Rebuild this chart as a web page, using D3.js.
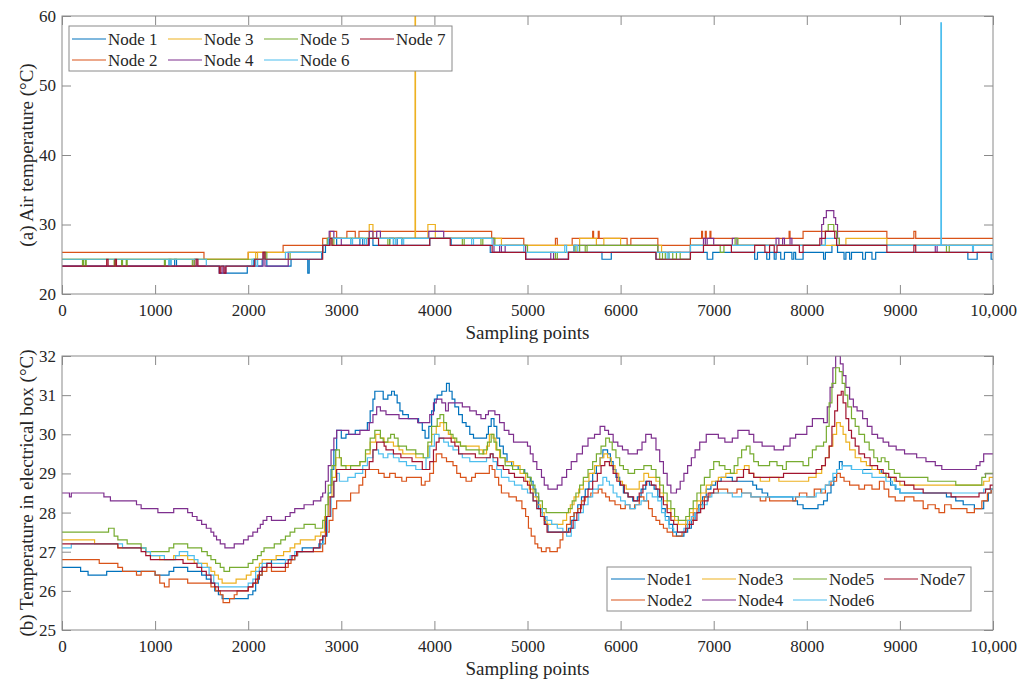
<!DOCTYPE html>
<html>
<head>
<meta charset="utf-8">
<script src="https://cdn.jsdelivr.net/npm/d3@7/dist/d3.min.js"></script>
<style>
  html, body { margin: 0; padding: 0; background: #fff; }
  svg { display: block; }
</style>
</head>
<body>
<svg id="chart" width="1036" height="682"></svg>
<script>
// ---- axes ticks ----
const xTicks = [0, 1000, 2000, 3000, 4000, 5000, 6000, 7000, 8000, 9000, 10000];
const xTickLabels = ["0", "1000", "2000", "3000", "4000", "5000", "6000", "7000", "8000", "9000", "10,000"];
const airTicks = [20, 30, 40, 50, 60];
const boxTicks = [25, 26, 27, 28, 29, 30, 31, 32];

const nodeColors = ["#0072BD", "#D95319", "#EDB120", "#7E2F8E", "#77AC30", "#4DBEEE", "#A2142F"];
const airNames = ["Node 1", "Node 2", "Node 3", "Node 4", "Node 5", "Node 6", "Node 7"];
const boxNames = ["Node1", "Node2", "Node3", "Node4", "Node5", "Node6", "Node7"];

// ---- (a) air temperature, step changes [sample, °C] ----
const airNode1 = [[0,24],[1150,25],[1170,24],[1210,25],[1230,24],[1690,23],[1990,24],[2060,25],[2100,24],[2150,25],[2200,24],[2460,25],[2640,23],[2655,25],[2790,26],[2830,27],[2870,28],[2950,27],[3100,28],[3120,27],[3200,28],[3230,27],[3300,28],[3340,27],[3520,28],[3560,27],[3600,28],[3650,27],[3950,28],[4180,27],[4600,26],[4980,25],[5440,26],[5800,25],[5900,26],[6380,25],[6750,26],[6930,25],[6990,26],[7440,25],[7470,26],[7570,25],[7600,26],[7650,25],[7670,26],[7720,25],[7760,26],[7840,25],[7860,26],[7880,25],[7960,26],[8180,25],[8200,26],[8270,27],[8330,26],[8400,25],[8420,26],[8460,25],[8480,26],[8600,25],[8630,26],[8700,25],[8740,26],[9730,25],[9830,26],[9980,25]];
const airNode2 = [[0,26],[1525,25],[2000,26],[2375,27],[2800,28],[2880,29],[2950,28],[3060,29],[3150,28],[3190,29],[4615,28],[4960,27],[5300,28],[5320,27],[5480,28],[5700,29],[5710,28],[5760,29],[5770,28],[6070,27],[6110,28],[6400,27],[6750,28],[6870,29],[6880,28],[6910,29],[6920,28],[6960,29],[6970,28],[7810,29],[7820,28],[7960,29],[8860,28],[9150,29],[9170,28]];
const airNode3 = [[0,25],[2000,26],[2080,25],[2100,26],[2800,27],[2850,28],[3300,30],[3340,28],[3792,66],[3797,28],[3930,30],[4010,28],[4720,27],[5560,28],[5740,27],[5820,28],[6000,27],[6440,26],[6750,27],[8420,28],[8860,27]];
const airNode4 = [[0,24],[1420,25],[1450,24],[1690,23],[1720,24],[1740,23],[1760,24],[2160,26],[2180,24],[2430,26],[2800,27],[2870,29],[2920,28],[3000,27],[3300,29],[3340,28],[3380,29],[3420,28],[3940,29],[4100,28],[4640,26],[4700,27],[4720,26],[4760,27],[4980,25],[5250,26],[5280,25],[5440,26],[5500,27],[6400,26],[6750,27],[6890,28],[6910,27],[6930,28],[7000,27],[7200,28],[7250,27],[7670,28],[7700,27],[7740,28],[7760,27],[7820,28],[7840,27],[8160,30],[8180,31],[8210,32],[8290,31],[8310,30],[8330,28],[8350,27],[9380,26],[9400,27]];
const airNode5 = [[0,25],[220,24],[230,25],[250,24],[260,25],[560,24],[570,25],[640,24],[650,25],[690,24],[700,25],[1100,24],[1110,25],[1400,24],[1420,25],[2180,26],[2200,25],[2450,26],[2800,27],[2850,28],[2900,27],[2920,28],[3500,27],[3520,28],[4300,27],[4320,28],[4500,27],[4520,28],[4650,27],[5000,26],[5300,25],[5320,26],[5500,27],[5520,26],[5560,27],[5620,26],[5640,27],[6400,26],[6420,25],[6450,26],[6480,25],[6520,26],[6560,25],[6600,26],[6640,25],[6750,27],[7070,26],[7110,27],[7230,28],[7260,27],[8200,29],[8230,30],[8290,29],[8320,28],[8350,27],[9500,26],[9530,27]];
const airNode6 = [[0,25],[1150,24],[1170,25],[1550,24],[2040,25],[2080,24],[2100,25],[2400,26],[2800,27],[2860,28],[3100,27],[3120,28],[3250,27],[3270,28],[3560,27],[3580,28],[3650,27],[3670,28],[4400,27],[4420,28],[4620,27],[4960,26],[5400,27],[5420,26],[5500,27],[5540,26],[6500,25],[6520,26],[6750,27],[8200,28],[8320,27],[9440,59],[9446,27],[9780,26],[9790,27]];
const airNode7 = [[0,24],[480,25],[495,24],[570,25],[585,24],[1440,25],[1460,24],[1690,23],[1705,24],[1740,23],[1760,24],[2070,25],[2160,26],[2180,25],[2800,27],[2880,28],[2900,27],[3290,28],[3400,27],[3950,28],[4170,27],[4620,26],[4980,25],[5440,26],[6380,25],[6750,26],[6890,27],[7190,26],[7440,27],[7550,26],[7600,27],[7650,26],[7680,27],[7920,26],[7960,27],[8140,28],[8200,29],[8300,28],[8320,27],[8860,26],[9150,27],[9170,26]];

// ---- (b) electrical box temperature, step changes [sample, °C] ----
const boxNode1 = [[0,26.6],[200,26.5],[280,26.4],[480,26.5],[1000,26.4],[1150,26.5],[1200,26.6],[1350,26.5],[1500,26.4],[1550,26.3],[1600,26.2],[1640,26.0],[1680,25.9],[1720,25.8],[2000,25.9],[2050,26.0],[2080,26.2],[2110,26.4],[2150,26.6],[2200,26.7],[2250,26.8],[2500,26.9],[2530,27.0],[2580,27.1],[2760,27.2],[2800,27.4],[2830,27.9],[2860,28.5],[2890,29.1],[2920,29.6],[2950,30.1],[3000,29.9],[3050,30.0],[3150,30.1],[3280,30.3],[3310,30.6],[3340,30.9],[3360,31.1],[3450,30.9],[3500,31.0],[3540,31.1],[3570,31.0],[3600,30.8],[3630,30.6],[3660,30.5],[3720,30.4],[3830,30.3],[3870,30.1],[3900,29.9],[3940,30.2],[3970,30.6],[4000,30.9],[4030,31.0],[4080,31.1],[4130,31.3],[4160,31.1],[4190,30.9],[4220,30.7],[4260,30.5],[4300,30.3],[4340,30.2],[4380,30.0],[4420,29.9],[4560,30.0],[4580,30.2],[4610,30.4],[4640,30.2],[4670,29.9],[4700,29.7],[4740,29.5],[4780,29.3],[4830,29.2],[4900,29.1],[4970,29.0],[5000,28.9],[5030,28.8],[5060,28.6],[5090,28.4],[5120,28.1],[5160,27.9],[5190,27.7],[5220,27.5],[5440,27.6],[5470,27.8],[5500,28.0],[5540,28.2],[5580,28.4],[5620,28.6],[5660,28.8],[5700,29.0],[5740,29.2],[5780,29.4],[5810,29.6],[5860,29.5],[5890,29.3],[5920,29.1],[5950,28.9],[5990,28.7],[6030,28.5],[6080,28.4],[6130,28.3],[6180,28.4],[6220,28.6],[6270,28.8],[6310,28.7],[6360,28.6],[6400,28.4],[6440,28.1],[6480,27.9],[6520,27.7],[6560,27.5],[6600,27.4],[6680,27.5],[6720,27.6],[6760,27.8],[6800,28.0],[6840,28.2],[6880,28.4],[6920,28.6],[6970,28.7],[7020,28.8],[7080,28.9],[7200,28.8],[7420,28.7],[7460,28.6],[7520,28.5],[7580,28.4],[7850,28.3],[7900,28.2],[7960,28.1],[8120,28.2],[8180,28.3],[8220,28.5],[8260,28.7],[8290,28.9],[8320,29.1],[8350,29.3],[8380,29.2],[8480,29.1],[8800,29.0],[8850,28.9],[8900,28.7],[8950,28.6],[9000,28.5],[9500,28.4],[9600,28.3],[9680,28.2],[9800,28.1],[9900,28.3],[9950,28.5],[9980,28.6]];
const boxNode2 = [[0,26.8],[400,26.7],[600,26.6],[650,26.5],[800,26.4],[850,26.5],[1000,26.4],[1050,26.2],[1100,26.1],[1150,26.3],[1350,26.2],[1600,26.1],[1650,26.0],[1700,25.9],[1730,25.7],[1800,25.8],[1850,25.9],[1880,26.0],[2000,26.1],[2050,26.2],[2100,26.4],[2150,26.5],[2200,26.6],[2250,26.5],[2400,26.6],[2430,26.7],[2460,26.8],[2500,26.9],[2530,27.0],[2800,27.2],[2830,27.5],[2870,27.8],[2910,28.1],[2950,28.3],[3100,28.5],[3190,28.7],[3230,28.9],[3260,29.1],[3400,29.0],[3460,28.9],[3520,29.0],[3580,28.9],[3650,28.8],[3700,28.9],[3860,28.7],[3900,28.8],[3950,29.0],[3990,29.3],[4020,29.5],[4080,29.4],[4130,29.3],[4200,29.2],[4240,29.0],[4280,28.9],[4340,28.8],[4400,28.9],[4440,29.0],[4590,29.2],[4620,29.1],[4650,28.9],[4690,28.7],[4720,28.5],[4800,28.4],[4880,28.3],[4940,28.1],[4980,27.9],[5010,27.6],[5040,27.4],[5080,27.2],[5110,27.1],[5150,27.0],[5200,27.1],[5240,27.0],[5320,27.1],[5350,27.3],[5380,27.5],[5420,27.7],[5460,27.9],[5500,28.0],[5540,28.1],[5580,28.3],[5620,28.4],[5680,28.5],[5760,28.6],[5800,28.5],[5840,28.4],[5880,28.3],[5940,28.2],[6000,28.1],[6050,28.2],[6100,28.1],[6150,28.2],[6200,28.4],[6250,28.3],[6300,28.1],[6340,27.9],[6380,27.8],[6420,27.7],[6460,27.6],[6500,27.5],[6560,27.4],[6660,27.5],[6700,27.7],[6740,27.8],[6780,28.0],[6820,28.1],[6860,28.3],[6900,28.4],[6960,28.5],[7050,28.6],[7150,28.5],[7250,28.6],[7300,28.5],[7400,28.4],[7500,28.3],[7560,28.4],[7600,28.3],[7880,28.4],[7920,28.5],[8000,28.4],[8080,28.6],[8150,28.5],[8200,28.7],[8260,28.8],[8320,29.0],[8360,28.9],[8400,28.8],[8460,28.7],[8560,28.6],[8620,28.7],[8700,28.6],[8780,28.8],[8830,28.6],[8880,28.4],[8950,28.3],[9050,28.4],[9150,28.3],[9250,28.1],[9300,28.2],[9380,28.1],[9420,28.0],[9480,28.2],[9550,28.1],[9720,28.0],[9800,28.1],[9880,28.3],[9940,28.5],[9980,28.6]];
const boxNode3 = [[0,27.3],[350,27.2],[600,27.1],[900,27.0],[950,26.9],[1050,26.8],[1200,26.9],[1350,26.8],[1420,26.7],[1560,26.6],[1600,26.5],[1640,26.4],[1680,26.3],[1720,26.2],[1870,26.3],[1980,26.4],[2030,26.5],[2080,26.6],[2120,26.7],[2150,26.8],[2300,26.9],[2380,27.0],[2450,27.1],[2500,27.2],[2560,27.3],[2720,27.4],[2780,27.5],[2820,27.9],[2860,28.4],[2900,28.9],[2940,29.4],[3000,29.2],[3200,29.3],[3260,29.5],[3310,29.8],[3370,30.0],[3420,29.9],[3460,29.8],[3560,29.7],[3620,29.6],[3660,29.5],[3800,29.4],[3930,29.7],[3970,30.0],[4020,30.2],[4060,30.3],[4100,30.1],[4150,30.0],[4180,29.9],[4220,29.8],[4280,29.7],[4480,29.6],[4520,29.5],[4560,29.7],[4590,30.0],[4630,29.9],[4660,29.6],[4700,29.4],[4760,29.3],[4850,29.2],[4920,29.0],[4980,28.8],[5020,28.6],[5060,28.4],[5100,28.2],[5140,28.0],[5180,27.8],[5210,27.7],[5380,27.8],[5420,28.0],[5460,28.2],[5500,28.4],[5550,28.6],[5600,28.8],[5660,29.0],[5720,29.2],[5780,29.4],[5820,29.5],[5860,29.4],[5900,29.2],[5940,29.0],[5980,28.8],[6020,28.7],[6060,28.6],[6200,28.8],[6250,29.0],[6300,28.9],[6380,28.8],[6420,28.5],[6460,28.3],[6500,28.1],[6540,27.9],[6580,27.8],[6620,27.7],[6700,27.8],[6740,28.0],[6780,28.1],[6820,28.3],[6860,28.5],[6920,28.7],[6980,28.8],[7050,28.9],[7130,29.0],[7250,29.1],[7330,29.2],[7380,29.0],[7430,28.9],[7500,28.8],[7600,28.9],[7700,28.8],[8020,28.9],[8100,29.0],[8160,29.2],[8200,29.4],[8240,29.7],[8280,30.0],[8320,30.3],[8360,30.2],[8390,30.0],[8420,29.8],[8460,29.6],[8520,29.4],[8580,29.3],[8640,29.2],[8700,29.1],[8780,29.0],[8850,28.9],[8940,28.8],[9000,28.7],[9900,28.8],[9960,28.9]];
const boxNode4 = [[0,28.5],[80,28.4],[100,28.5],[450,28.4],[520,28.3],[800,28.2],[850,28.1],[1030,28.0],[1200,28.1],[1350,28.0],[1400,27.9],[1450,27.8],[1500,27.7],[1550,27.6],[1600,27.5],[1630,27.4],[1660,27.3],[1700,27.2],[1750,27.1],[1850,27.2],[1950,27.3],[2000,27.4],[2050,27.5],[2100,27.6],[2130,27.7],[2160,27.8],[2200,27.9],[2250,27.8],[2400,27.9],[2450,28.0],[2500,28.1],[2600,28.2],[2700,28.3],[2780,28.4],[2800,28.5],[2830,28.8],[2860,29.2],[2890,29.6],[2920,29.9],[2950,30.1],[3080,30.0],[3200,30.1],[3300,30.3],[3340,30.5],[3380,30.7],[3420,30.6],[3480,30.5],[3620,30.4],[3820,30.3],[3950,30.5],[3990,30.8],[4020,30.9],[4080,30.8],[4120,30.6],[4150,30.8],[4300,30.7],[4380,30.6],[4450,30.5],[4500,30.4],[4550,30.5],[4580,30.6],[4650,30.5],[4700,30.3],[4750,30.1],[4800,30.0],[4850,29.8],[5000,29.7],[5030,29.5],[5060,29.3],[5100,29.1],[5150,28.9],[5180,28.7],[5220,28.6],[5320,28.7],[5370,28.9],[5420,29.1],[5470,29.3],[5530,29.5],[5590,29.7],[5650,29.9],[5720,30.0],[5780,30.2],[5830,30.1],[5870,30.0],[5920,29.8],[5970,29.7],[6020,29.6],[6080,29.5],[6180,29.6],[6230,29.8],[6270,30.0],[6330,29.9],[6380,29.6],[6420,29.3],[6460,29.0],[6500,28.7],[6540,28.5],[6600,28.6],[6640,28.8],[6680,29.0],[6720,29.2],[6760,29.4],[6800,29.6],[6850,29.8],[6920,30.0],[7050,29.9],[7120,29.8],[7200,29.9],[7260,30.1],[7380,30.0],[7430,29.8],[7520,29.7],[7650,29.6],[7750,29.7],[7820,29.9],[7880,30.0],[8000,30.2],[8060,30.4],[8180,30.3],[8220,30.7],[8250,31.2],[8280,31.7],[8310,32.0],[8360,31.8],[8390,31.5],[8420,31.2],[8460,30.9],[8500,30.7],[8540,30.6],[8600,30.4],[8650,30.2],[8700,30.0],[8760,29.9],[8820,29.8],[8880,29.7],[8960,29.6],[9050,29.5],[9180,29.4],[9280,29.3],[9380,29.2],[9450,29.1],[9820,29.2],[9860,29.3],[9900,29.5]];
const boxNode5 = [[0,27.5],[500,27.6],[560,27.4],[600,27.3],[700,27.2],[850,27.1],[900,27.0],[1150,27.1],[1200,27.2],[1350,27.1],[1500,27.0],[1560,26.9],[1600,26.8],[1650,26.7],[1700,26.6],[1740,26.5],[1800,26.6],[2000,26.7],[2050,26.8],[2100,26.9],[2140,27.0],[2170,27.1],[2280,27.2],[2350,27.3],[2400,27.4],[2450,27.5],[2500,27.6],[2600,27.7],[2720,27.6],[2800,27.8],[2830,28.2],[2860,28.7],[2900,29.2],[2940,29.6],[2980,29.4],[3000,29.2],[3050,29.1],[3100,29.2],[3200,29.3],[3260,29.6],[3310,29.9],[3360,30.1],[3420,29.9],[3450,29.8],[3500,29.9],[3530,30.0],[3570,29.9],[3610,29.7],[3700,29.6],[3800,29.5],[3880,29.4],[3930,29.8],[3970,30.2],[4030,30.4],[4060,30.5],[4100,30.3],[4130,30.1],[4170,30.0],[4200,29.9],[4240,29.8],[4280,29.7],[4340,29.6],[4480,29.5],[4530,29.6],[4570,29.8],[4610,30.0],[4640,29.8],[4670,29.6],[4710,29.4],[4760,29.2],[4840,29.1],[4960,29.0],[5000,28.9],[5040,28.7],[5080,28.5],[5120,28.3],[5160,28.1],[5200,28.0],[5440,28.1],[5480,28.3],[5520,28.5],[5560,28.7],[5600,28.9],[5650,29.1],[5700,29.3],[5740,29.5],[5790,29.7],[5840,29.9],[5880,29.8],[5910,29.6],[5950,29.4],[5990,29.2],[6030,29.1],[6080,29.0],[6150,29.1],[6250,29.2],[6330,29.1],[6380,28.9],[6420,28.7],[6460,28.5],[6500,28.3],[6540,28.1],[6580,27.9],[6620,27.8],[6700,27.9],[6740,28.1],[6780,28.3],[6820,28.5],[6860,28.7],[6900,28.9],[6960,29.1],[7000,29.3],[7060,29.2],[7120,29.1],[7180,29.0],[7220,29.2],[7260,29.4],[7300,29.6],[7350,29.7],[7390,29.5],[7430,29.3],[7480,29.2],[7600,29.3],[7680,29.2],[7740,29.1],[7780,29.3],[7960,29.2],[8020,29.4],[8060,29.6],[8100,29.7],[8180,29.8],[8210,30.2],[8240,30.8],[8270,31.3],[8310,31.7],[8350,31.6],[8380,31.3],[8410,31.0],[8440,30.7],[8480,30.4],[8520,30.2],[8560,30.0],[8620,29.8],[8670,29.6],[8720,29.4],[8760,29.3],[8800,29.4],[8840,29.3],[8880,29.1],[8940,29.0],[9000,28.9],[9300,28.8],[9600,28.7],[9850,28.7],[9880,28.9],[9920,29.0]];
const boxNode6 = [[0,27.1],[100,27.2],[650,27.1],[900,27.0],[950,26.9],[1100,26.8],[1220,26.9],[1260,27.0],[1350,26.9],[1420,26.8],[1460,26.7],[1500,26.6],[1580,26.4],[1630,26.2],[1680,26.1],[2000,26.2],[2050,26.3],[2080,26.5],[2120,26.6],[2150,26.7],[2400,26.8],[2450,26.9],[2500,27.0],[2700,27.1],[2780,27.2],[2810,27.4],[2850,27.9],[2890,28.4],[2920,28.8],[2950,29.0],[2980,28.8],[3070,28.9],[3150,29.0],[3230,29.2],[3280,29.4],[3340,29.6],[3400,29.5],[3450,29.4],[3500,29.5],[3560,29.4],[3620,29.3],[3700,29.2],[3800,29.1],[3910,29.4],[3950,29.7],[4000,30.0],[4050,29.9],[4100,29.8],[4150,29.7],[4200,29.6],[4260,29.5],[4300,29.4],[4380,29.3],[4560,29.4],[4600,29.5],[4630,29.3],[4670,29.1],[4720,28.9],[4800,28.8],[4860,28.7],[4940,28.6],[5000,28.5],[5060,28.3],[5100,28.1],[5160,27.9],[5210,27.8],[5260,27.7],[5320,27.6],[5380,27.5],[5420,27.4],[5470,27.6],[5510,27.8],[5550,28.0],[5600,28.2],[5650,28.4],[5700,28.6],[5760,28.7],[5810,28.9],[5850,28.8],[5880,28.7],[5920,28.5],[5960,28.4],[6000,28.3],[6050,28.2],[6100,28.1],[6160,28.2],[6220,28.3],[6280,28.5],[6340,28.4],[6400,28.3],[6440,28.0],[6480,27.8],[6520,27.6],[6570,27.5],[6680,27.6],[6720,27.8],[6760,27.9],[6800,28.0],[6840,28.1],[6880,28.2],[6930,28.4],[6980,28.5],[7200,28.4],[7300,28.5],[7400,28.4],[8100,28.5],[8160,28.6],[8200,28.7],[8240,28.8],[8280,29.0],[8320,29.1],[8380,29.2],[8480,29.1],[8600,29.0],[8700,28.9],[8850,28.8],[8920,28.7],[8960,28.6],[9000,28.5],[9900,28.6]];
const boxNode7 = [[0,27.2],[600,27.1],[850,27.0],[900,26.9],[950,26.8],[1300,26.7],[1450,26.6],[1500,26.5],[1550,26.4],[1600,26.2],[1640,26.1],[1680,26.0],[2000,26.1],[2050,26.2],[2080,26.3],[2120,26.5],[2150,26.6],[2200,26.7],[2250,26.6],[2400,26.7],[2430,26.8],[2470,26.9],[2520,27.0],[2700,27.1],[2770,27.3],[2800,27.4],[2840,27.9],[2880,28.4],[2920,28.8],[2950,29.1],[3300,29.3],[3340,29.6],[3380,29.8],[3460,29.7],[3480,29.6],[3560,29.5],[3640,29.4],[3760,29.3],[3870,29.1],[3950,29.3],[3990,29.6],[4020,29.8],[4050,29.9],[4180,29.8],[4220,29.7],[4260,29.5],[4440,29.4],[4600,29.5],[4630,29.4],[4680,29.2],[4740,29.1],[4800,29.0],[4860,28.9],[4960,28.8],[5000,28.7],[5030,28.5],[5060,28.3],[5100,28.1],[5140,27.9],[5180,27.7],[5210,27.5],[5460,27.6],[5490,27.8],[5530,28.0],[5570,28.2],[5610,28.4],[5650,28.6],[5700,28.8],[5750,29.0],[5790,29.2],[5830,29.3],[5880,29.2],[5920,29.0],[5960,28.8],[6000,28.7],[6040,28.5],[6080,28.4],[6140,28.3],[6200,28.5],[6240,28.7],[6280,28.8],[6330,28.7],[6380,28.6],[6420,28.4],[6460,28.2],[6500,28.0],[6540,27.8],[6570,27.7],[6610,27.5],[6700,27.6],[6740,27.7],[6780,27.8],[6820,28.0],[6860,28.1],[6900,28.3],[6940,28.5],[7000,28.6],[7040,28.8],[7250,28.9],[7320,29.1],[7380,29.0],[7430,28.9],[7750,29.0],[8100,29.1],[8160,29.2],[8200,29.4],[8240,29.7],[8270,30.2],[8300,30.6],[8330,31.0],[8370,31.1],[8390,30.8],[8420,30.4],[8450,30.1],[8480,29.9],[8520,29.7],[8560,29.5],[8620,29.4],[8680,29.2],[8760,29.1],[8820,29.0],[8880,28.9],[8960,28.8],[9050,28.7],[9150,28.6],[9250,28.5],[9550,28.4],[9850,28.5],[9920,28.6],[9970,28.7]];

const airSeries = [airNode1, airNode2, airNode3, airNode4, airNode5, airNode6, airNode7];
const boxSeries = [boxNode1, boxNode2, boxNode3, boxNode4, boxNode5, boxNode6, boxNode7];

// ---- layout ----
const FONT = "'Liberation Serif', 'Times New Roman', serif";
const TEXT = "#262626";
const svg = d3.select("#chart");
const left = 62, right = 993;
const AXIS = "#8a8a8a";
const TICK_LEN = 9;

const x = d3.scaleLinear().domain([0, 10000]).range([left, right]);

function addText(sel, size) {
  return sel.style("font-family", FONT).attr("font-size", size).attr("fill", TEXT);
}

function drawPanel(cfg) {
  const y = d3.scaleLinear().domain(cfg.yDomain).range([cfg.bottom, cfg.top]);
  const g = svg.append("g");
  const clipId = "clip-" + cfg.id;
  svg.append("defs").append("clipPath").attr("id", clipId)
    .append("rect").attr("x", left).attr("y", cfg.top)
    .attr("width", right - left).attr("height", cfg.bottom - cfg.top);

  const line = d3.line()
    .x(d => x(d[0]))
    .y(d => y(d[1]))
    .curve(d3.curveStepAfter);

  const lines = g.append("g").attr("clip-path", `url(#${clipId})`);
  cfg.series.forEach((s, i) => {
    const pts = s.concat([[10000, s[s.length - 1][1]]]);
    lines.append("path")
      .attr("d", line(pts))
      .attr("fill", "none")
      .attr("stroke", nodeColors[i])
      .attr("stroke-width", 1.2)
      .attr("stroke-linejoin", "miter");
  });

  // box
  g.append("rect").attr("x", left).attr("y", cfg.top)
    .attr("width", right - left).attr("height", cfg.bottom - cfg.top)
    .attr("fill", "none").attr("stroke", AXIS).attr("stroke-width", 1);

  // ticks point inward on all four sides; labels on bottom and left
  const xb = d3.axisBottom(x).tickValues(xTicks).tickSize(-TICK_LEN)
    .tickFormat((d, i) => xTickLabels[i]).tickPadding(10);
  const xAxisG = g.append("g").attr("transform", `translate(0,${cfg.bottom})`).call(xb);
  const xt = d3.axisTop(x).tickValues(xTicks).tickSize(-TICK_LEN).tickFormat("");
  const xTopG = g.append("g").attr("transform", `translate(0,${cfg.top})`).call(xt);

  const yl = d3.axisLeft(y).tickValues(cfg.yTicks).tickSize(-TICK_LEN)
    .tickFormat(d3.format("d")).tickPadding(6);
  const yAxisG = g.append("g").attr("transform", `translate(${left},0)`).call(yl);
  const yr = d3.axisRight(y).tickValues(cfg.yTicks).tickSize(-TICK_LEN).tickFormat("");
  const yRightG = g.append("g").attr("transform", `translate(${right},0)`).call(yr);

  [xAxisG, xTopG, yAxisG, yRightG].forEach(a => {
    a.select(".domain").remove();
    a.selectAll(".tick line").attr("stroke", AXIS);
    addText(a.selectAll(".tick text"), 17);
  });

  // axis titles
  addText(g.append("text"), 19)
    .attr("x", (left + right) / 2).attr("y", cfg.bottom + 45)
    .attr("text-anchor", "middle")
    .text("Sampling points");
  addText(g.append("text"), 19)
    .attr("transform", `translate(33,${(cfg.top + cfg.bottom) / 2}) rotate(-90)`)
    .attr("text-anchor", "middle")
    .text(cfg.yTitle);

  // legend
  const L = cfg.legend;
  const lg = g.append("g");
  lg.append("rect").attr("x", L.x).attr("y", L.y).attr("width", L.w).attr("height", L.h)
    .attr("fill", "#fff").attr("stroke", AXIS).attr("stroke-width", 1);
  cfg.names.forEach((name, i) => {
    const col = Math.floor(i / 2), row = i % 2;
    const lx = L.x + L.pad + col * L.colW;
    const ly = L.y + L.rowY[row];
    lg.append("line").attr("x1", lx).attr("x2", lx + L.lineLen)
      .attr("y1", ly).attr("y2", ly)
      .attr("stroke", nodeColors[i]).attr("stroke-width", 1.2);
    addText(lg.append("text"), 17)
      .attr("x", lx + L.lineLen + 2).attr("y", ly)
      .attr("dy", "0.34em").text(name);
  });
}

drawPanel({
  id: "air", top: 16, bottom: 294, yDomain: [20, 60], yTicks: airTicks,
  series: airSeries, names: airNames,
  yTitle: "(a) Air temperature (°C)",
  legend: { x: 69, y: 26, w: 383, h: 45, pad: 3, colW: 96, lineLen: 34, rowY: [13, 34] }
});

drawPanel({
  id: "box", top: 356, bottom: 630, yDomain: [25, 32], yTicks: boxTicks,
  series: boxSeries, names: boxNames,
  yTitle: "(b) Temperature in electrical box (°C)",
  legend: { x: 607, y: 567, w: 364, h: 44, pad: 4, colW: 91, lineLen: 34, rowY: [12, 33] }
});
</script>
</body>
</html>
